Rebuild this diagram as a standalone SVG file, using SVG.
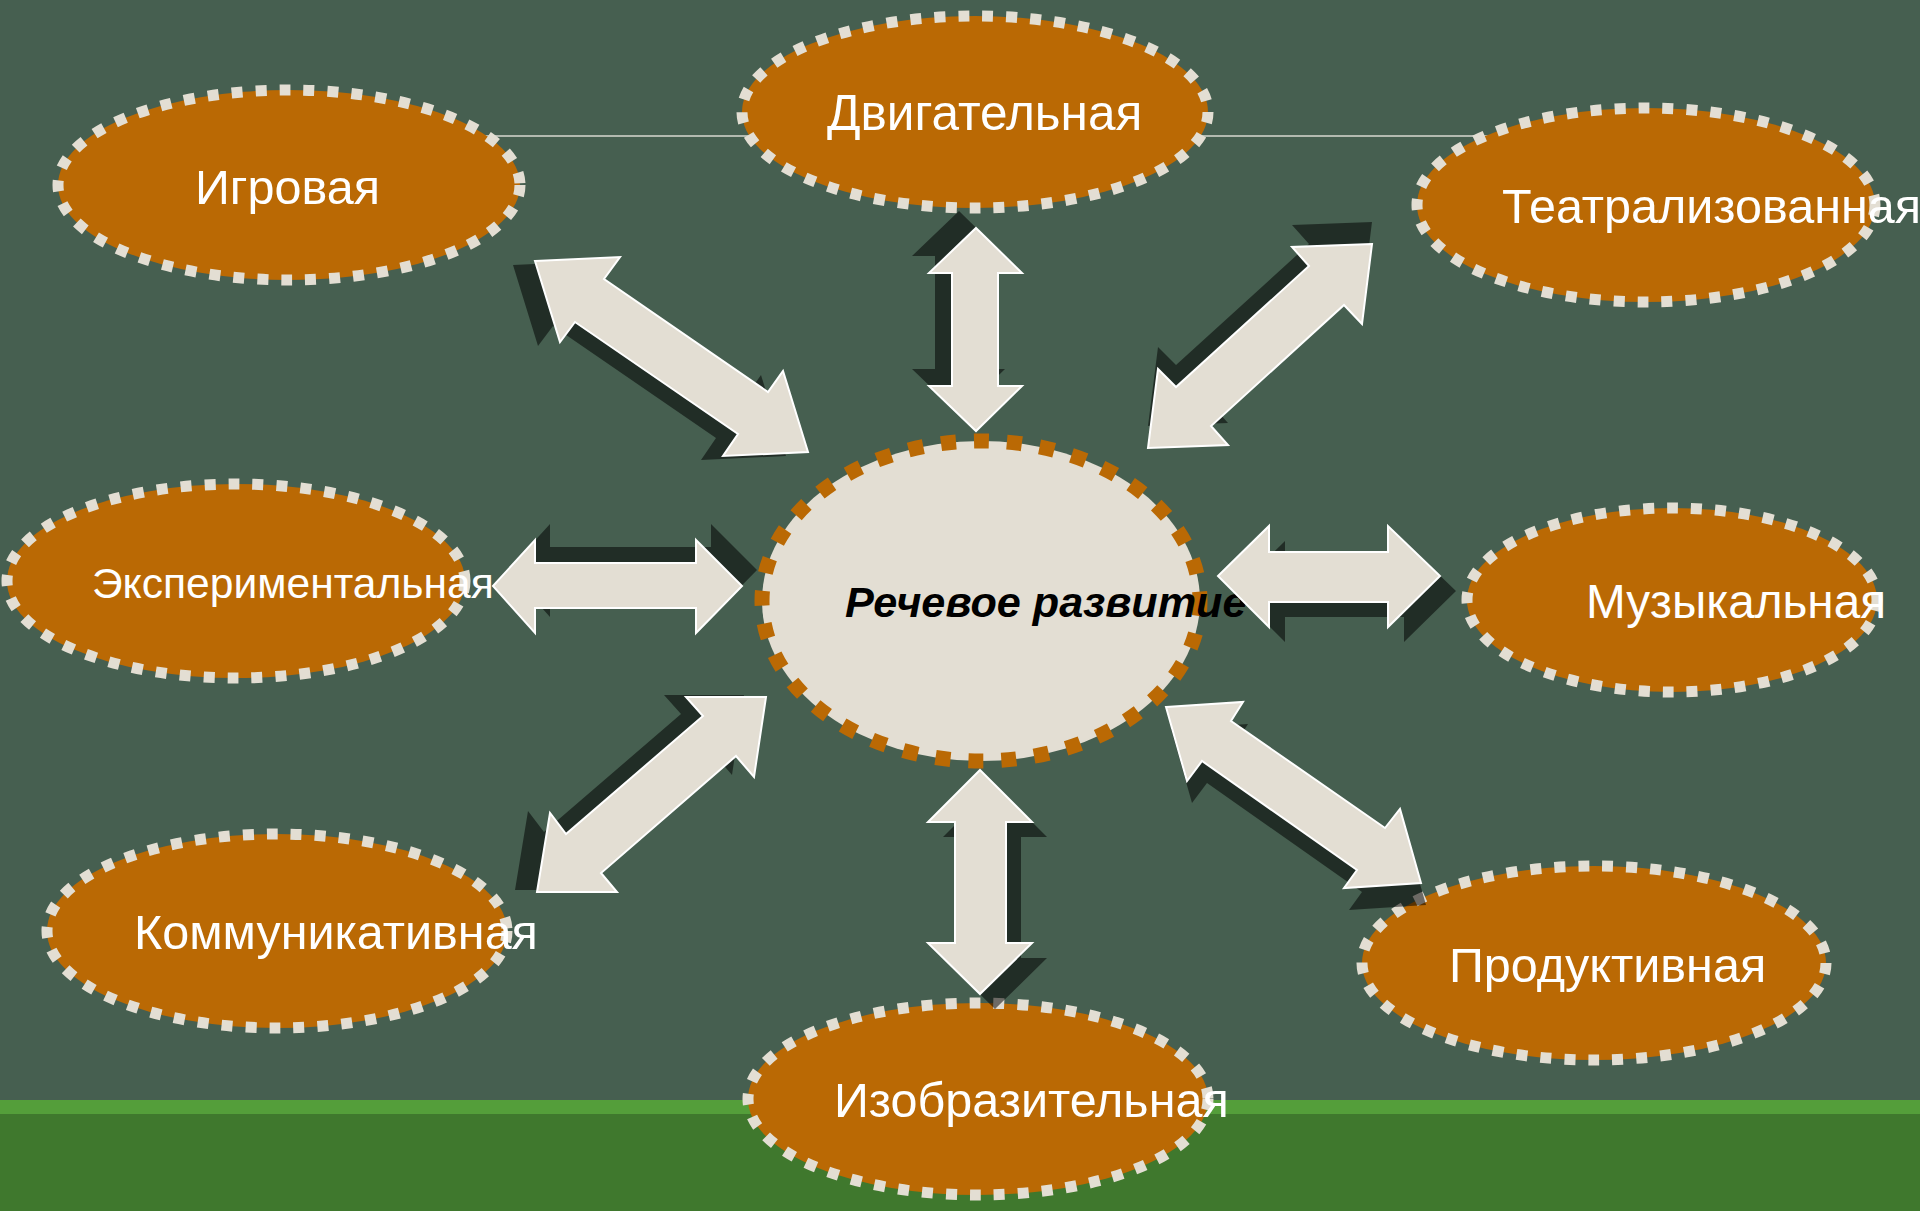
<svg xmlns="http://www.w3.org/2000/svg" width="1920" height="1211" viewBox="0 0 1920 1211">
<style>
.node{fill:#BA6904;stroke:#E3DED3;stroke-width:11;stroke-dasharray:11 13}
.center{fill:#E3DED3;stroke:#BA6904;stroke-width:15;stroke-dasharray:15 18}
.lbl{font-family:"Liberation Sans",Arial,sans-serif;fill:#FFFFFF;font-size:48.5px}
.clbl{font-family:"Liberation Sans",Arial,sans-serif;fill:#000000;font-size:43.2px;font-weight:bold;font-style:italic}
.arrow{fill:#E3DED3;stroke:#FFFFFF;stroke-width:2;stroke-linejoin:miter}
.shadow{fill:#000000;fill-opacity:0.52}
</style>
<rect x="0" y="0" width="1920" height="1211" fill="#465F50"/>
<rect x="0" y="1100" width="1920" height="111" fill="#3F782D"/>
<rect x="0" y="1100" width="1920" height="14" fill="#549E3A"/>
<line x1="300" y1="136" x2="1640" y2="136" stroke="#D8D8D0" stroke-width="1.5"/>

<g id="node-igrovaya">
<ellipse class="node" cx="289" cy="185" rx="231" ry="95"/>
<text class="lbl" x="195" y="204">Игровая</text>
</g>
<g id="node-dvigatelnaya">
<ellipse class="node" cx="975" cy="112" rx="233" ry="96"/>
<text class="lbl" x="827" y="130" style="font-size:49.5px">Двигательная</text>
</g>
<g id="node-teatralizovannaya">
<ellipse class="node" cx="1646" cy="205" rx="229" ry="97"/>
<text class="lbl" x="1502" y="223">Театрализованная</text>
</g>
<g id="node-eksperimentalnaya">
<ellipse class="node" cx="236" cy="581" rx="229" ry="97"/>
<text class="lbl" x="92" y="598" style="font-size:42.6px">Экспериментальная</text>
</g>
<g id="node-center">
<ellipse class="center" cx="981" cy="601" rx="219" ry="160"/>
<text class="clbl" x="845" y="617">Речевое развитие</text>
</g>
<g id="node-muzykalnaya">
<ellipse class="node" cx="1672" cy="600" rx="205" ry="92"/>
<text class="lbl" x="1586" y="618" style="font-size:47.7px">Музыкальная</text>
</g>
<g id="node-kommunikativnaya">
<ellipse class="node" cx="277" cy="931" rx="230" ry="97"/>
<text class="lbl" x="134" y="949">Коммуникативная</text>
</g>
<g id="node-produktivnaya">
<ellipse class="node" cx="1594" cy="963" rx="232" ry="97"/>
<text class="lbl" x="1449" y="982">Продуктивная</text>
</g>
<g id="node-izobrazitelnaya">
<ellipse class="node" cx="978" cy="1099" rx="230" ry="96"/>
<text class="lbl" x="834" y="1117">Изобразительная</text>
</g>

<g id="connectors">
<g id="arrow-nw">
<polygon class="shadow" transform="translate(-22,4)" points="535,261 620,257 604,279 768,392 783,371 808,452 723,456 738,434 575,322 560,342"/>
<polygon class="arrow" points="535,261 620,257 604,279 768,392 783,371 808,452 723,456 738,434 575,322 560,342"/>
</g>
<g id="arrow-n">
<polygon class="shadow" transform="translate(-17,-17)" points="976,228 1022,273 998,273 998,386 1022,386 976,431 929,386 952,386 952,273 929,273"/>
<polygon class="arrow" points="976,228 1022,273 998,273 998,386 1022,386 976,431 929,386 952,386 952,273 929,273"/>
</g>
<g id="arrow-ne">
<polygon class="shadow" transform="translate(0,-22)" points="1372,244 1292,247 1309,266 1176,387 1158,369 1148,448 1228,445 1211,426 1344,305 1362,324"/>
<polygon class="arrow" points="1372,244 1292,247 1309,266 1176,387 1158,369 1148,448 1228,445 1211,426 1344,305 1362,324"/>
</g>
<g id="arrow-w">
<polygon class="shadow" transform="translate(15,-16)" points="493,586 535,540 535,563 696,563 696,540 742,586 696,633 696,608 535,608 535,633"/>
<polygon class="arrow" points="493,586 535,540 535,563 696,563 696,540 742,586 696,633 696,608 535,608 535,633"/>
</g>
<g id="arrow-e">
<polygon class="shadow" transform="translate(16,15)" points="1218,576 1269,526 1269,552 1388,552 1388,526 1440,576 1388,627 1388,602 1269,602 1269,627"/>
<polygon class="arrow" points="1218,576 1269,526 1269,552 1388,552 1388,526 1440,576 1388,627 1388,602 1269,602 1269,627"/>
</g>
<g id="arrow-sw">
<polygon class="shadow" transform="translate(-22,-2)" points="766,697 686,697 703,716 566,834 550,813 537,892 617,892 601,873 736,756 754,777"/>
<polygon class="arrow" points="766,697 686,697 703,716 566,834 550,813 537,892 617,892 601,873 736,756 754,777"/>
</g>
<g id="arrow-s">
<polygon class="shadow" transform="translate(15,15)" points="980,770 1032,822 1006,822 1006,943 1032,943 980,994 928,943 955,943 955,822 928,822"/>
<polygon class="arrow" points="980,770 1032,822 1006,822 1006,943 1032,943 980,994 928,943 955,943 955,822 928,822"/>
</g>
<g id="arrow-se">
<polygon class="shadow" transform="translate(5,22)" points="1166,707 1243,702 1231,721 1385,828 1400,809 1421,883 1344,888 1357,870 1202,761 1187,781"/>
<polygon class="arrow" points="1166,707 1243,702 1231,721 1385,828 1400,809 1421,883 1344,888 1357,870 1202,761 1187,781"/>
</g>
</g>
</svg>
